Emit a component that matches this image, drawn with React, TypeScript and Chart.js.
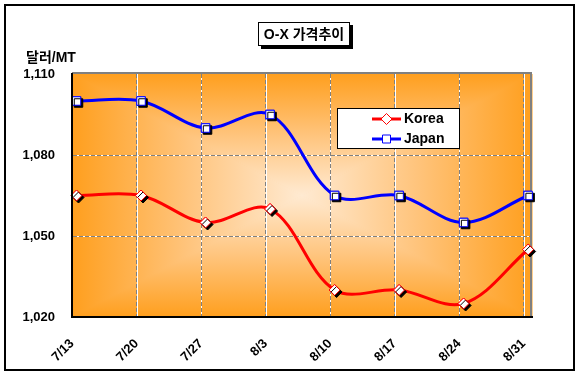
import React, { useEffect, useRef } from 'react';
import { Chart, registerables } from 'chart.js';

Chart.register(...registerables);

// ---- data ----
const dates = ['7/13', '7/20', '7/27', '8/3', '8/10', '8/17', '8/24', '8/31'];
const korea = [1065, 1065, 1055, 1060, 1030, 1030, 1025, 1045];
const japan = [1100, 1100, 1090, 1095, 1065, 1065, 1055, 1065];
const yMin = 1020;
const yMax = 1110;
const yStep = 30;
const seriesNames = ['Korea', 'Japan'];
const titleText = 'O-X 가격추이';
const unitText = '달러/MT';

// ---- styles ----
const FONT = "'Liberation Sans', Arial, 'Noto Sans CJK KR', sans-serif";
const KOREA_COLOR = '#FF0000';
const JAPAN_COLOR = '#0000FF';
const X_MIN = -0.07;
const X_MAX = 7.06;
const GRAD_STOPS: [number, string][] = [
  [0, '#FFEAD2'],
  [0.5, '#FFC47C'],
  [1, '#FF9F1E'],
];

const backgroundPlugin = {
  id: 'bgPlugin',
  beforeDraw(chart: any) {
    const ctx: CanvasRenderingContext2D = chart.ctx;
    const a = chart.chartArea;
    ctx.save();
    ctx.fillStyle = '#FFFFFF';
    ctx.fillRect(0, 0, chart.width, chart.height);
    ctx.strokeStyle = '#000000';
    ctx.lineWidth = 2;
    ctx.strokeRect(5, 5, 569, 365);

    // rectangular path gradient
    const cx = (a.left + a.right) / 2;
    const cy = (a.top + a.bottom) / 2;
    ctx.fillStyle = GRAD_STOPS[GRAD_STOPS.length - 1][1];
    ctx.fillRect(a.left, a.top, a.right - a.left, a.bottom - a.top);
    const tris = [
      [a.left, a.top, a.right, a.top, cx, a.top],
      [a.right, a.top, a.right, a.bottom, a.right, cy],
      [a.right, a.bottom, a.left, a.bottom, cx, a.bottom],
      [a.left, a.bottom, a.left, a.top, a.left, cy],
    ];
    for (const [x1, y1, x2, y2, ex, ey] of tris) {
      const g = ctx.createLinearGradient(cx, cy, ex, ey);
      for (const [o, c] of GRAD_STOPS) g.addColorStop(o, c);
      ctx.fillStyle = g;
      ctx.strokeStyle = g;
      ctx.lineWidth = 1;
      ctx.beginPath();
      ctx.moveTo(cx, cy);
      ctx.lineTo(x1, y1);
      ctx.lineTo(x2, y2);
      ctx.closePath();
      ctx.fill();
      ctx.stroke();
    }

    // white underlay for dashed grid lines
    const xs = chart.scales.x;
    const ys = chart.scales.y;
    ctx.strokeStyle = '#FFFFFF';
    ctx.lineWidth = 1;
    ctx.beginPath();
    xs.ticks.forEach((t: any, i: number) => {
      if (i === 0) return;
      const px = Math.round(xs.getPixelForValue(t.value)) + 0.5;
      ctx.moveTo(px, a.top);
      ctx.lineTo(px, a.bottom);
    });
    ys.ticks.forEach((t: any, i: number) => {
      if (i === 0 || i === ys.ticks.length - 1) return;
      const py = Math.round(ys.getPixelForValue(t.value)) + 0.5;
      ctx.moveTo(a.left, py);
      ctx.lineTo(a.right, py);
    });
    ctx.stroke();

    // gray frame (top & right)
    ctx.strokeStyle = '#808080';
    ctx.lineWidth = 2;
    ctx.beginPath();
    ctx.moveTo(a.left, a.top - 1);
    ctx.lineTo(a.right - 1, a.top - 1);
    ctx.lineTo(a.right - 1, a.bottom);
    ctx.stroke();
    ctx.restore();
  },
};

const shadowPlugin = {
  id: 'markerShadow',
  afterDatasetDraw(chart: any, args: any) {
    const ctx: CanvasRenderingContext2D = chart.ctx;
    const meta = args.meta;
    ctx.save();
    ctx.shadowColor = '#000000';
    ctx.shadowOffsetX = 2;
    ctx.shadowOffsetY = 2;
    ctx.shadowBlur = 0;
    meta.data.forEach((el: any) => el.draw(ctx, chart.chartArea));
    ctx.restore();
  },
};

function drawMarker(ctx: CanvasRenderingContext2D, style: string, x: number, y: number, color: string) {
  ctx.save();
  ctx.fillStyle = '#FFFFFF';
  ctx.strokeStyle = color;
  ctx.lineWidth = 1;
  ctx.beginPath();
  if (style === 'rectRot') {
    const r = 5.5;
    ctx.moveTo(x - r, y);
    ctx.lineTo(x, y - r);
    ctx.lineTo(x + r, y);
    ctx.lineTo(x, y + r);
    ctx.closePath();
  } else {
    const s = 4;
    ctx.rect(x - s, y - s, 2 * s, 2 * s);
  }
  ctx.fill();
  ctx.stroke();
  ctx.restore();
}

const annotationPlugin = {
  id: 'annotations',
  afterDraw(chart: any) {
    const ctx: CanvasRenderingContext2D = chart.ctx;
    ctx.save();
    // title box with shadow
    ctx.fillStyle = '#000000';
    ctx.fillRect(261, 25, 92, 24);
    ctx.fillStyle = '#FFFFFF';
    ctx.fillRect(258, 22, 92, 24);
    ctx.strokeStyle = '#000000';
    ctx.lineWidth = 1;
    ctx.strokeRect(258.5, 22.5, 91, 23);
    ctx.fillStyle = '#000000';
    ctx.font = `bold 14px ${FONT}`;
    ctx.textAlign = 'center';
    ctx.textBaseline = 'middle';
    ctx.fillText(titleText, 304, 35);

    // unit label
    ctx.textAlign = 'left';
    ctx.fillText(unitText, 26, 58);

    // legend
    ctx.fillStyle = '#FFFFFF';
    ctx.fillRect(337, 108, 122, 40);
    ctx.strokeStyle = '#000000';
    ctx.strokeRect(337.5, 108.5, 122, 40);
    const rows = [
      { name: seriesNames[0], color: KOREA_COLOR, style: 'rectRot', y: 119 },
      { name: seriesNames[1], color: JAPAN_COLOR, style: 'rect', y: 139 },
    ];
    for (const r of rows) {
      ctx.strokeStyle = r.color;
      ctx.lineWidth = 3;
      ctx.beginPath();
      ctx.moveTo(372, r.y);
      ctx.lineTo(401, r.y);
      ctx.stroke();
      drawMarker(ctx, r.style, 386.5, r.y, r.color);
      ctx.fillStyle = '#000000';
      ctx.font = `bold 14px ${FONT}`;
      ctx.textAlign = 'left';
      ctx.textBaseline = 'middle';
      ctx.fillText(r.name, 404, r.y + 0.5);
    }
    ctx.restore();
  },
};

export default function App() {
  const canvasRef = useRef<HTMLCanvasElement | null>(null);

  useEffect(() => {
    if (!canvasRef.current) return;
    const tickFont = { family: FONT, size: 13, weight: 'bold' as const };
    const chart = new Chart(canvasRef.current, {
      type: 'line',
      data: {
        datasets: [
          {
            label: seriesNames[0],
            data: korea.map((v, i) => ({ x: i, y: v })),
            borderColor: KOREA_COLOR,
            borderWidth: 3,
            tension: 0.35,
            fill: false,
            pointStyle: 'rectRot',
            pointRadius: 5.5,
            pointBackgroundColor: '#FFFFFF',
            pointBorderColor: KOREA_COLOR,
            pointBorderWidth: 1,
          },
          {
            label: seriesNames[1],
            data: japan.map((v, i) => ({ x: i, y: v })),
            borderColor: JAPAN_COLOR,
            borderWidth: 3,
            tension: 0.35,
            fill: false,
            pointStyle: 'rect',
            pointRadius: 6,
            pointBackgroundColor: '#FFFFFF',
            pointBorderColor: JAPAN_COLOR,
            pointBorderWidth: 1,
          },
        ],
      },
      options: {
        animation: false,
        responsive: false,
        devicePixelRatio: 1,
        events: [],
        layout: { padding: { top: 74, right: 46, bottom: 0, left: 0 } },
        plugins: {
          legend: { display: false },
          title: { display: false },
          tooltip: { enabled: false },
        },
        scales: {
          x: {
            type: 'linear',
            min: X_MIN,
            max: X_MAX,
            afterBuildTicks: (s: any) => {
              s.ticks = dates.map((_, i) => ({ value: i + X_MIN }));
            },
            afterFit: (s: any) => {
              s.height = 58;
              s.paddingLeft = 0;
              s.paddingRight = 0;
            },
            grid: {
              color: (c: any) => (c.index === 0 ? 'rgba(0,0,0,0)' : '#808080'),
              lineWidth: 1,
              drawTicks: false,
            },
            border: { color: '#000000', width: 2, dash: [4, 2], z: 1 },
            ticks: {
              autoSkip: false,
              maxRotation: 45,
              minRotation: 45,
              padding: 19,
              color: '#000000',
              font: tickFont,
              callback: (_v: any, i: number) => dates[i],
            },
          },
          y: {
            type: 'linear',
            min: yMin,
            max: yMax,
            afterFit: (s: any) => {
              s.width = 72;
              s.paddingTop = 0;
              s.paddingBottom = 0;
            },
            grid: {
              color: (c: any) =>
                c.index === 0 || c.index === 3 ? 'rgba(0,0,0,0)' : '#808080',
              lineWidth: 1,
              drawTicks: false,
            },
            border: { color: '#000000', width: 2, dash: [4, 2], z: 1 },
            ticks: {
              stepSize: yStep,
              padding: 17,
              color: '#000000',
              font: tickFont,
              callback: (v: any) => Number(v).toLocaleString('en-US'),
            },
          },
        },
      },
      plugins: [backgroundPlugin, shadowPlugin, annotationPlugin],
    });
    return () => chart.destroy();
  }, []);

  return (
    <div style={{ position: 'absolute', left: 0, top: 0, width: 578, height: 375 }}>
      <canvas ref={canvasRef} width={578} height={375} style={{ display: 'block' }} />
    </div>
  );
}
